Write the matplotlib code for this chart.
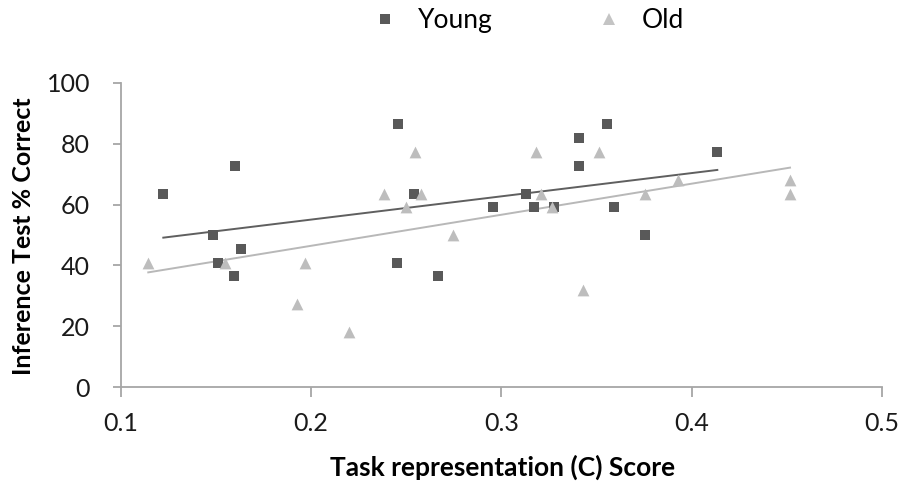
import numpy as np
import matplotlib
matplotlib.use("Agg")
import matplotlib.pyplot as plt
from matplotlib.lines import Line2D

plt.rcParams['font.family'] = ['Lato', 'DejaVu Sans']

# Young group
young_x = [0.1224, 0.160, 0.1487, 0.163, 0.151, 0.1595, 0.2457, 0.3554, 0.341, 0.341,
           0.2543, 0.313, 0.2957, 0.3172, 0.3279, 0.359, 0.3755, 0.245, 0.2666, 0.4135]
young_y = [63.6, 72.7, 50.0, 45.5, 40.9, 36.4, 86.4, 86.4, 81.8, 72.7,
           63.6, 63.6, 59.1, 59.1, 59.1, 59.1, 50.0, 40.9, 36.4, 77.3]

# Old group
old_x = [0.1145, 0.155, 0.1969, 0.1925, 0.2201, 0.2384, 0.2547, 0.2577, 0.2499, 0.2748,
         0.318, 0.3207, 0.3268, 0.3515, 0.3428, 0.3755, 0.393, 0.4517, 0.4517]
old_y = [40.9, 40.9, 40.9, 27.3, 18.2, 63.6, 77.3, 63.6, 59.1, 50.0,
         77.3, 63.6, 59.1, 77.3, 31.8, 63.6, 68.2, 68.2, 63.6]

x_ticks = [0.1, 0.2, 0.3, 0.4, 0.5]
y_ticks = [0, 20, 40, 60, 80, 100]

dark = "#595959"
light = "#bdbdbd"
axis_col = "#a6a6a6"

fig = plt.figure(figsize=(9.08, 4.87), dpi=100)
ax = fig.add_axes([0.1329, 0.2047, 0.8384, 0.6255])

ax.scatter(young_x, young_y, marker="s", s=56, color=dark, zorder=3, linewidths=0)
ax.scatter(old_x, old_y, marker="^", s=72, color=light, zorder=3, linewidths=0)

# linear trend lines
for xs, ys, c in [(young_x, young_y, "#5f5f5f"), (old_x, old_y, "#b8b8b8")]:
    k, b = np.polyfit(xs, ys, 1)
    xx = np.array([min(xs), max(xs)])
    ax.plot(xx, k * xx + b, color=c, lw=1.4, zorder=2)

ax.set_xlim(0.1, 0.5)
ax.set_ylim(0, 100)
ax.set_xticks(x_ticks)
ax.set_xticklabels([str(t) for t in x_ticks])
ax.set_yticks(y_ticks)

for s in ["top", "right"]:
    ax.spines[s].set_visible(False)
for s in ["left", "bottom"]:
    ax.spines[s].set_color(axis_col)
    ax.spines[s].set_linewidth(1.3)
ax.tick_params(axis="both", colors=axis_col, width=1.3, labelsize=18, labelcolor="#1a1a1a")
ax.tick_params(axis="x", length=7, pad=11)
ax.tick_params(axis="y", length=6, pad=16)

ax.set_xlabel("Task representation (C) Score", fontsize=19, fontweight="bold")
ax.xaxis.label.set_va("center")
ax.xaxis.set_label_coords(0.5016, -0.262)
ax.set_ylabel("Inference Test % Correct", fontsize=18, fontweight="bold")
ax.yaxis.label.set_va("center")
ax.yaxis.set_label_coords(-0.1283, 0.497)

handles = [Line2D([], [], ls="none", marker="s", ms=7, color=dark, mew=0),
           Line2D([], [], ls="none", marker="^", ms=9, color="#c4c4c4", mew=0)]
fig.legend(handles, ["Young", "Old"], loc="center left", bbox_to_anchor=(0.395, 0.957),
           ncol=2, frameon=False, fontsize=19, borderpad=0, handlelength=1.0,
           handletextpad=0.75, columnspacing=3.9)

fig.savefig("out.png", dpi=100)
